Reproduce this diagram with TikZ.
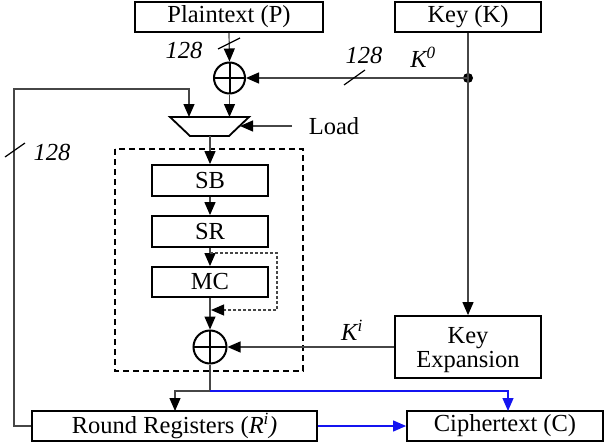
\documentclass[tikz,border=0pt]{standalone}
\usepackage{fontspec}
\setmainfont{Liberation Serif}
\newfontfamily\timesfont{Liberation Serif}
\usetikzlibrary{arrows.meta,calc}
\definecolor{linegray}{RGB}{70,70,70}
\definecolor{arrowblue}{RGB}{20,20,240}
\newcommand{\bigfont}{\timesfont\fontsize{24.5}{27}\selectfont}
\tikzset{
  box/.style={draw=black, line width=1.8pt, fill=white, inner sep=0pt, align=center},
  conn/.style={draw=linegray, line width=1.2pt},
  arr/.style={conn, -{Triangle[length=13pt,width=11pt,color=black]}},
  bluearr/.style={draw=arrowblue, line width=1.2pt, -{Triangle[length=13pt,width=11pt,color=arrowblue]}},
  xorgate/.style={circle, draw=black, line width=2pt, minimum size=31pt, inner sep=0pt,
    path picture={\draw[line width=2pt] (path picture bounding box.north) -- (path picture bounding box.south)
      (path picture bounding box.west) -- (path picture bounding box.east);}},
  lbl/.style={inner sep=0pt, font=\bigfont\itshape},
  slash/.style={draw=black, line width=1.2pt},
}
\begin{document}
\begin{tikzpicture}[x=1pt,y=-1pt,font=\bigfont]
\useasboundingbox (0,0) rectangle (605,444);
% boxes
\node[box, minimum width=188pt, minimum height=30pt] (P) at (229,17) {Plaintext (P)};
\node[box, minimum width=146pt, minimum height=30pt] (K) at (468,17) {Key (K)};
\node[xorgate] (x1) at (229.5,78) {};
\fill (468,78) circle (5pt);
\coordinate (dot) at (468,78);
% mux
\draw[line width=1.8pt] (170,117) -- (249,117) -- (229,136) -- (190,136) -- cycle;
\coordinate (muxA) at (189,117);
\coordinate (muxB) at (229.5,117);
\coordinate (muxout) at (210,136);
\coordinate (muxR) at (240,126);
\node[inner sep=0pt] (load) at (334,126) {Load};
\coordinate (loadsrc) at (292,126);
% dashed box
\draw[line width=1.6pt, dash pattern=on 6pt off 4pt] (115,149) rectangle (303,371);
\node[box, minimum width=116pt, minimum height=31pt] (SB) at (210,180.5) {SB};
\node[box, minimum width=116pt, minimum height=31pt] (SR) at (210,231.5) {SR};
\node[box, minimum width=116pt, minimum height=30pt] (MC) at (210,282) {MC};
\node[xorgate, minimum size=33pt] (x2) at (210,347) {};
\node[box, minimum width=146pt, minimum height=62pt, text depth=0pt] (KE) at (468,347) {Key\\[-3pt]Expansion};
\node[box, minimum width=285pt, minimum height=30pt] (RR) at (174.5,426) {Round Registers (\textit{R\textsuperscript{i})}};
\node[box, minimum width=196pt, minimum height=30pt] (CT) at (505,426) {Ciphertext (C)};
% connectors
\draw[arr] (P.south) -- (x1.north);
\draw[conn] (K.south) -- (dot);
\draw[arr] (dot) -- (KE.north);
\draw[arr] (dot) -- (x1.east);
\draw[arr] (x1.south) -- (muxB);
\coordinate (fb1) at (14,426);
\coordinate (fb2) at (14,89);
\draw[arr] (RR.west) -- (fb1) -- (fb2) -- (189,89) -- (muxA);
\draw[arr] (loadsrc) -- (muxR);
\draw[arr] (muxout) -- (SB.north);
\draw[arr] (SB.south) -- (SR.north);
\draw[arr] (SR.south) -- (MC.north);
\coordinate (byp) at (210,253);
\draw[draw=linegray, line width=1.1pt, dash pattern=on 3pt off 2pt, -{Triangle[length=13pt,width=11pt,color=black]}]
  (byp) -- (277,253) -- (277,310) -- (211,310);
\draw[arr] (MC.south) -- (x2.north);
\draw[arr] (KE.west) -- (x2.east);
\coordinate (split) at (210,391);
\draw[conn] (x2.south) -- (split);
\draw[arr] (split) -- (175,391) -- (175,411);
\draw[bluearr] (split) -- (508,391) -- (508,411);
\draw[bluearr] (RR.east) -- (CT.west);
% slashes and labels
\draw[slash] (218,49) -- (240,38);
\node[lbl] at (184,50) {128};
\draw[slash] (344,85) -- (365,70);
\node[lbl] at (364,55) {128};
\node[lbl] at (423,57) {K\textsuperscript{0}};
\draw[slash] (5,157) -- (25,143);
\node[lbl] at (52,152) {128};
\node[lbl] at (352,330) {K\textsuperscript{i}};
\end{tikzpicture}
\end{document}
